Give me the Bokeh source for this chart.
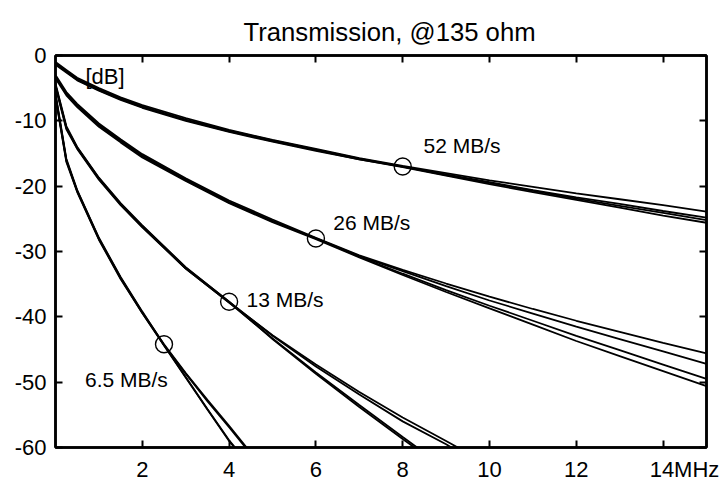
from bokeh.plotting import figure
from bokeh.models import Range1d, LinearAxis, FixedTicker, Label, ColumnDataSource
from bokeh.core.properties import value
from bokeh.embed import file_html
from bokeh.resources import INLINE

# ---- data ----
x_52 = [0, 0.25, 0.5, 1, 1.5, 2, 3, 4, 5, 6, 7, 8, 9, 10, 11, 12, 13, 14, 15]
y_52_a = [-1.0, -2.2, -3.4, -5.0, -6.4, -7.6, -9.6, -11.4, -12.9, -14.3, -15.7, -16.9, -18.0, -19.1, -20.1, -21.1, -22.0, -22.9, -23.9]
y_52_b = [-1.2, -2.4, -3.6, -5.2, -6.6, -7.8, -9.8, -11.5, -13.0, -14.4, -15.8, -17.0, -18.2, -19.4, -20.6, -21.7, -22.7, -23.8, -24.8]
y_52_c = [-1.3, -2.5, -3.7, -5.3, -6.7, -7.9, -9.9, -11.6, -13.1, -14.5, -15.9, -17.0, -18.3, -19.5, -20.7, -21.9, -23.0, -24.1, -25.2]
y_52_d = [-1.4, -2.6, -3.8, -5.4, -6.8, -8.0, -10.0, -11.7, -13.2, -14.6, -15.9, -17.1, -18.4, -19.7, -20.9, -22.1, -23.3, -24.5, -25.6]

x_26 = [0, 0.25, 0.5, 1, 1.5, 2, 3, 4, 5, 6, 7, 8, 9, 10, 11, 12, 13, 14, 15]
y_26_a = [-3.0, -5.6, -7.4, -10.4, -12.8, -15.1, -18.8, -22.2, -25.1, -27.9, -30.6, -32.8, -34.9, -36.9, -38.8, -40.6, -42.3, -44.0, -45.6]
y_26_b = [-3.2, -5.8, -7.6, -10.6, -13.0, -15.3, -19.0, -22.4, -25.3, -28.0, -30.7, -33.0, -35.3, -37.5, -39.5, -41.5, -43.4, -45.3, -47.2]
y_26_c = [-3.3, -5.9, -7.7, -10.7, -13.1, -15.4, -19.1, -22.5, -25.4, -28.0, -30.8, -33.4, -35.9, -38.3, -40.6, -42.9, -45.1, -47.3, -49.5]
y_26_d = [-3.5, -6.1, -7.9, -10.9, -13.3, -15.6, -19.2, -22.6, -25.5, -28.1, -30.9, -33.6, -36.2, -38.7, -41.2, -43.7, -46.0, -48.3, -50.6]

x_13 = [0, 0.25, 0.5, 1, 1.5, 2, 3, 4, 5, 6, 7, 8, 9, 10]
y_13_a = [-4.3, -10.8, -14.0, -18.7, -22.6, -26.0, -32.4, -37.7, -43.4, -48.7, -53.8, -58.7, -63.5, -68.0]
y_13_b = [-4.5, -11.0, -14.2, -18.9, -22.8, -26.2, -32.6, -37.8, -43.3, -48.5, -53.5, -58.4, -63.2, -67.8]
y_13_c = [-4.6, -11.1, -14.1, -18.8, -22.7, -26.1, -32.5, -37.7, -42.9, -47.6, -51.9, -56.0, -59.5, -63.5]
y_13_d = [-4.8, -11.3, -14.3, -19.0, -22.9, -26.3, -32.6, -37.8, -42.8, -47.3, -51.5, -55.4, -59.0, -62.7]

x_65 = [0, 0.25, 0.5, 1, 1.5, 2, 2.5, 3, 3.5, 4, 4.5, 5]
y_65_a = [-5.8, -15.8, -20.6, -27.9, -33.9, -39.2, -44.3, -49.2, -54.1, -58.9, -62.9, -67.0]
y_65_b = [-6.0, -16.0, -20.8, -28.1, -34.1, -39.4, -44.4, -49.3, -54.2, -59.0, -63.1, -67.2]
y_65_c = [-6.2, -16.1, -20.7, -28.0, -34.0, -39.3, -44.2, -48.6, -52.7, -56.7, -60.8, -64.8]
y_65_d = [-6.4, -16.3, -20.9, -28.2, -34.2, -39.4, -44.3, -48.7, -52.9, -56.9, -61.0, -65.0]

marker_x = [2.5, 4, 6, 8]
marker_y = [-44.2, -37.7, -28.0, -17.0]
rate_labels = ["6.5 MB/s", "13 MB/s", "26 MB/s", "52 MB/s"]
label_x = [0.68, 4.40, 6.40, 8.48]
label_y = [-49.6, -37.4, -25.5, -13.8]

x_ticks = [2, 4, 6, 8, 10, 12, 14]
x_tick_labels = ["2", "4", "6", "8", "10", "12", "14MHz"]
y_ticks = [-60, -50, -40, -30, -20, -10, 0]
y_tick_labels = ["-60", "-50", "-40", "-30", "-20", "-10", "0"]

FONT = "Liberation Sans"
NBSP = "\u00a0"

p = figure(width=725, height=484, x_range=Range1d(0, 15), y_range=Range1d(-60, 0),
           output_backend="svg", toolbar_location=None,
           min_border_left=55, min_border_right=19, min_border_top=55, min_border_bottom=36,
           title="Transmission, @135 ohm")
p.grid.visible = False
p.outline_line_color = "black"
p.outline_line_width = 2.5
p.background_fill_color = "white"
p.border_fill_color = "white"

p.title.align = "left"
p.title.offset = 188
p.title.text_font = FONT
p.title.text_font_size = "25.7px"
p.title.text_font_style = "normal"
p.title.text_color = "black"
p.title.standoff = 19

# bottom axis
ax = p.xaxis[0]
ax.ticker = FixedTicker(ticks=x_ticks)
ax.axis_line_width = 2.5
ax.major_tick_in = 7
ax.major_tick_out = 0
ax.major_tick_line_width = 2
ax.major_tick_line_color = "black"
ax.major_label_text_font = FONT
ax.major_label_text_font_size = "22px"
ax.major_label_text_color = "black"
ax.major_label_standoff = 9
# "14MHz": pad on the left so that the number itself sits centred on its tick
ax.major_label_overrides = dict(zip(x_ticks, [t if not t.endswith("MHz") else NBSP * 7 + t
                                              for t in x_tick_labels]))

# left axis
ay = p.yaxis[0]
ay.ticker = FixedTicker(ticks=y_ticks)
ay.axis_line_width = 2.5
ay.major_tick_in = 7
ay.major_tick_out = 0
ay.major_tick_line_width = 2
ay.major_tick_line_color = "black"
ay.minor_tick_line_color = None
ay.major_label_text_font = FONT
ay.major_label_text_font_size = "22px"
ay.major_label_text_color = "black"
ay.major_label_standoff = 9
ay.major_label_overrides = dict(zip(y_ticks, y_tick_labels))

# top and right: ticks only
top_ax = LinearAxis(ticker=FixedTicker(ticks=x_ticks))
top_ax.axis_line_color = "black"
top_ax.axis_line_width = 2.5
top_ax.major_tick_in = 7
top_ax.major_tick_out = 0
top_ax.major_tick_line_color = "black"
top_ax.major_tick_line_width = 2
top_ax.major_label_text_color = None
top_ax.major_label_standoff = 0
p.add_layout(top_ax, "above")

right_ax = LinearAxis(ticker=FixedTicker(ticks=y_ticks))
right_ax.axis_line_color = "black"
right_ax.axis_line_width = 2.5
right_ax.major_tick_in = 7
right_ax.major_tick_out = 0
right_ax.major_tick_line_color = "black"
right_ax.major_tick_line_width = 2
right_ax.major_label_text_color = None
p.add_layout(right_ax, "right")

families = [
    (x_52, [y_52_a, y_52_b, y_52_c, y_52_d]),
    (x_26, [y_26_a, y_26_b, y_26_c, y_26_d]),
    (x_13, [y_13_a, y_13_b, y_13_c, y_13_d]),
    (x_65, [y_65_a, y_65_b, y_65_c, y_65_d]),
]
for xs, ys_list in families:
    for ys in ys_list:
        p.line(xs, ys, line_color="black", line_width=1.8)

p.scatter(marker_x, marker_y, marker="circle", size=17, fill_color=None,
          line_color="black", line_width=1.4)

src = ColumnDataSource(dict(x=label_x, y=label_y, t=rate_labels))
p.text(x="x", y="y", text="t", source=src, text_font=value(FONT),
       text_font_size="21px", text_align="left", text_baseline="middle", text_color="black")

p.add_layout(Label(x=0.69, y=-3.2, text="[dB]", text_font=FONT, text_font_size="22px",
                   text_align="left", text_baseline="middle", text_color="black"))

open("out.html", "w").write(file_html(p, INLINE))
